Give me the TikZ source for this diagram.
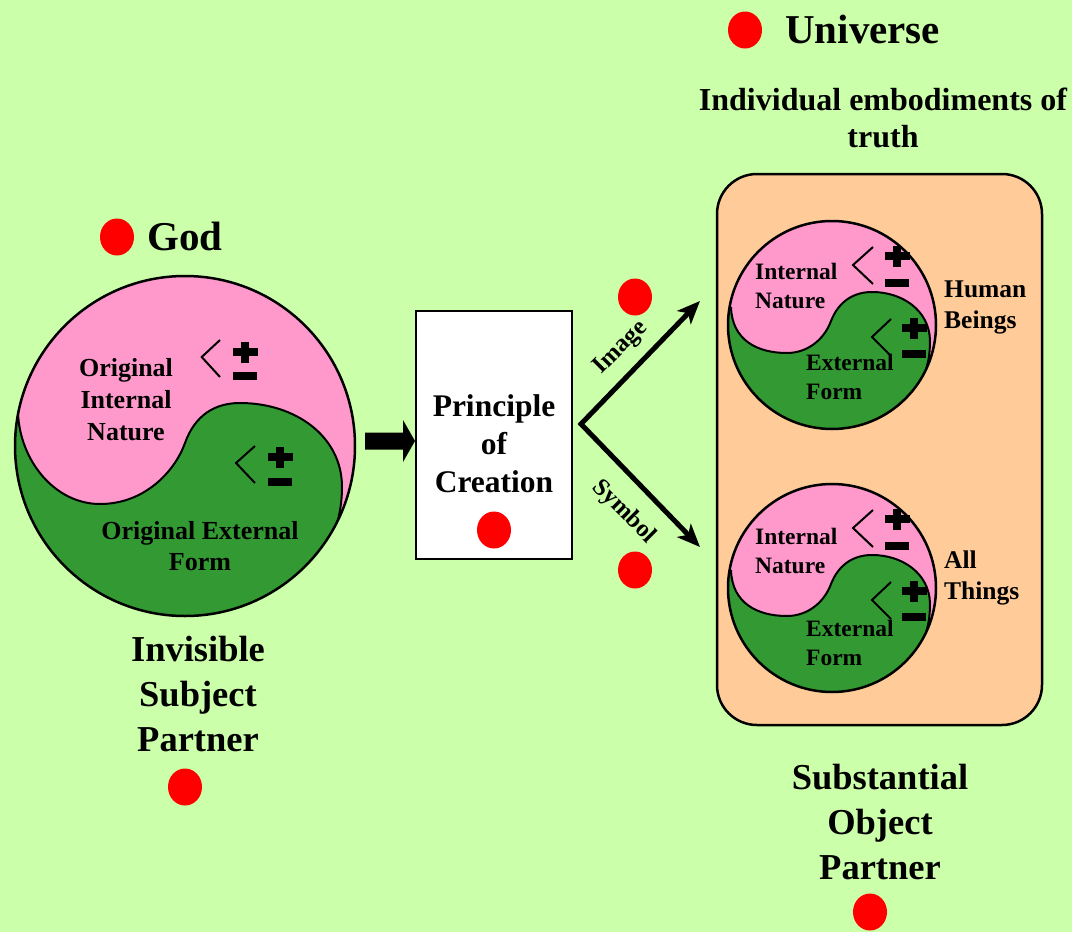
\documentclass[tikz,border=0pt]{standalone}
\usepackage{fontspec}
\setmainfont{Liberation Serif}
\usetikzlibrary{arrows.meta,calc,shapes.geometric}
\definecolor{bgc}{RGB}{204,255,170}
\definecolor{pinkc}{RGB}{255,153,204}
\definecolor{greenc}{RGB}{51,153,51}
\definecolor{peachc}{RGB}{255,204,153}
\definecolor{dotred}{RGB}{255,0,0}
\newcommand\pmsgn[3]{%
  \fill (#1-12.5,#2-4) rectangle (#1+12.5,#2+4);
  \fill (#1-4,#2-10.5) rectangle (#1+4,#2+10.5);
  \fill (#1-12,#3-4) rectangle (#1+12,#3+4);}
\newcommand\smallS{(-101,-18) .. controls (-100,15) and (-75,28) .. (-45,28) .. controls (-25,28) and (-8,15) .. (-1,-4) .. controls (6,-22) and (20,-33) .. (40,-33) .. controls (70,-33) and (97,-15) .. (98,15) .. controls (98,30) and (96,40) .. (92,50)}
\newcommand\bigS{(-167,-33) .. controls (-165,15) and (-130,58) .. (-85,58) .. controls (-40,58) and (-10,25) .. (0,-3) .. controls (10,-31) and (30,-43) .. (55,-43) .. controls (110,-43) and (157,-10) .. (157,41) .. controls (157,60) and (153,78) .. (147,91)}
\newcommand\smallyy[2]{%
\begin{scope}[shift={#2}]
  \fill[greenc] (0,0) circle[radius=104];
  \begin{scope}
    \clip (0,0) circle[radius=104];
    \fill[pinkc] (-130,-18) -- \smallS -- (130,50) -- (130,-130) -- (-130,-130) -- cycle;
    \draw[line width=2] \smallS;
  \end{scope}
  \node[circle, draw, line width=2.5, minimum size=208, inner sep=0] (#1) at (0,0) {};
  \draw[chev] (41,-78) -- (21,-60) -- (41,-41);
  \draw[chev] (59,-6) -- (40,12) -- (59,31);
  \pmsgn{65}{-69}{-42}
  \pmsgn{82}{3}{29}
\end{scope}}
\begin{document}
\begin{tikzpicture}[x=1pt,y=-1pt,
  reddot/.style={ellipse, fill=dotred, minimum width=34, minimum height=37, inner sep=0},
  chev/.style={line width=2, line join=miter},
  ttl/.style={font=\fontsize{41}{48}\selectfont\bfseries, inner sep=0},
  tbig/.style={font=\fontsize{36.5}{45}\selectfont\bfseries, align=center, inner sep=0},
  tmid/.style={font=\fontsize{31.5}{38}\selectfont\bfseries, align=center, inner sep=0},
  tsub/.style={font=\fontsize{32}{37}\selectfont\bfseries, align=center, inner sep=0},
  tin/.style={font=\fontsize{26}{32}\selectfont\bfseries, align=center, inner sep=0},
  tsm/.style={font=\fontsize{23.5}{29}\selectfont\bfseries, align=left, inner sep=0, anchor=west},
  tside/.style={font=\fontsize{25.5}{31}\selectfont\bfseries, align=left, inner sep=0, anchor=west},
  tarr/.style={font=\fontsize{24.5}{28}\selectfont\bfseries, inner sep=0}]
\fill[bgc] (0,0) rectangle (1072,932);
\useasboundingbox (0,0) rectangle (1072,932);

% ---- God
\node[reddot] (goddot) at (117,237) {};
\node[ttl, anchor=base west] (god) at (147,250) {God};

% big yin-yang
\begin{scope}[shift={(185,446)}]
  \fill[greenc] (0,0) circle[radius=170];
  \begin{scope}
    \clip (0,0) circle[radius=170];
    \fill[pinkc] (-200,-33) -- \bigS -- (200,91) -- (200,-200) -- (-200,-200) -- cycle;
    \draw[line width=2] \bigS;
  \end{scope}
  \node[circle, draw, line width=2.5, minimum size=340, inner sep=0] (bigyy) at (0,0) {};
  \draw[chev] (35,-106) -- (16.7,-89) -- (35,-69);
  \draw[chev] (70,0) -- (51,17) -- (70,37);
  \pmsgn{60}{-94}{-70.5}
  \pmsgn{95}{11}{36}
\end{scope}
\node[tin] (oin) at (126,400) {Original\\Internal\\Nature};
\node[tin, font=\fontsize{26}{31}\selectfont\bfseries] (oef) at (200,546) {Original External\\Form};

\node[tbig] (isp) at (198,694) {Invisible\\Subject\\Partner};
\node[reddot] (ispdot) at (185,787) {};

% ---- principle of creation
\node[draw, line width=2, fill=white, minimum width=156, minimum height=248, inner sep=0] (box) at (494,435) {};
\node[tmid] (poc) at (494,444) {Principle\\of\\Creation};
\node[reddot] (pocdot) at (494,530) {};
\begin{scope}[shift={($(box.west)+(0,6)$)}]
  \fill (-50,-8.5) -- (-12,-8.5) -- (-12,-21) -- (0,0) -- (-12,21) -- (-12,8.5) -- (-50,8.5) -- cycle;
\end{scope}

% ---- arrows
\coordinate (vtx) at (581,424);
\coordinate (tipA) at (700,301);
\coordinate (tipB) at (700,547);
\draw[line width=5, line join=miter, {Stealth[length=23pt,width=19pt,inset=6pt]}-{Stealth[length=23pt,width=19pt,inset=6pt]}] (tipA) -- (vtx) -- (tipB);
\node[tarr, rotate=45] (img) at (621,348) {Image};
\node[tarr, rotate=-45] (sym) at (624,512) {Symbol};
\node[reddot] (imgdot) at (635,297) {};
\node[reddot] (symdot) at (635,570) {};

% ---- universe
\node[reddot] (unidot) at (745,30) {};
\node[ttl, anchor=base west] (uni) at (785,43) {Universe};
\node[tsub] (ind) at (883,118) {Individual embodiments of\\truth};

\node[draw, line width=2.5, rounded corners=40, fill=peachc, minimum width=325, minimum height=551, inner sep=0] (grp) at (879.5,449.5) {};

\smallyy{hyy}{(832,325)}
\smallyy{tyy}{(832,588)}
\node[tsm] (hin) at (755,286) {Internal\\Nature};
\node[tsm] (hef) at (806,377) {External\\Form};
\node[tside] (hb) at (944,307) {Human\\Beings};
\node[tsm] (tin) at (755,551) {Internal\\Nature};
\node[tsm] (tef) at (806,643) {External\\Form};
\node[tside] (at) at (944,578) {All\\Things};

\node[tbig] (sop) at (880,822) {Substantial\\Object\\Partner};
\node[reddot] (sopdot) at (870,912) {};
\end{tikzpicture}
\end{document}
